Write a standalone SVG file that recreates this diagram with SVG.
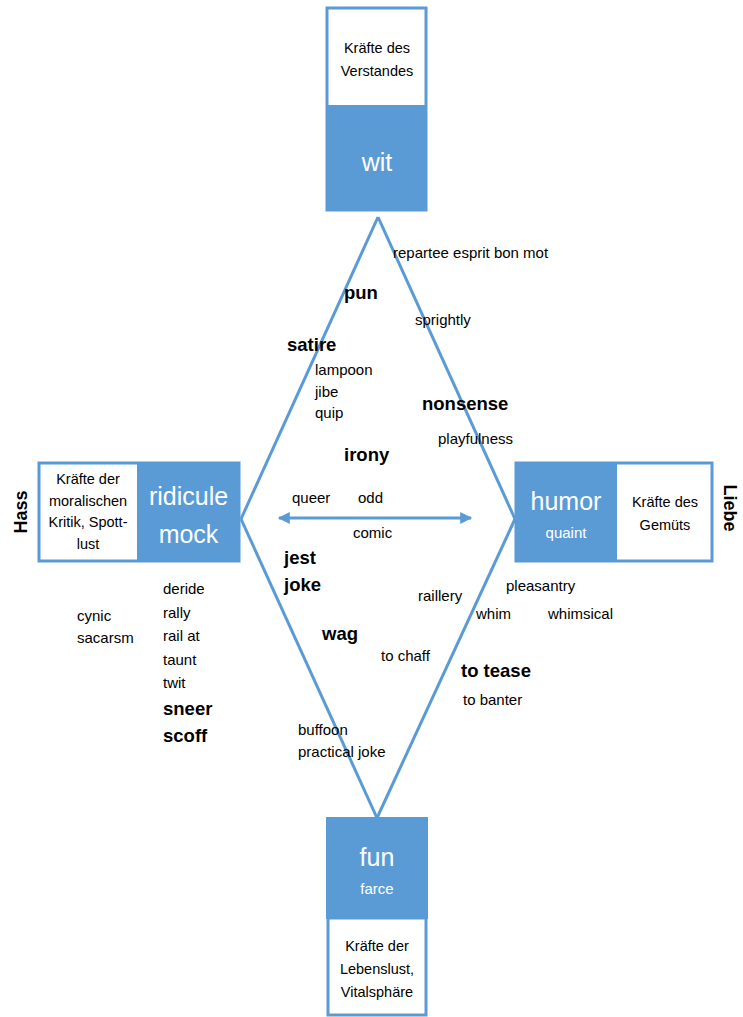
<svg xmlns="http://www.w3.org/2000/svg" width="743" height="1017" viewBox="0 0 743 1017">
<style>
  text { font-family: "Liberation Sans", Arial, sans-serif; fill: #000; }
  .w { font-size: 15px; }
  .b { font-size: 18.5px; font-weight: bold; }
  .box { font-size: 14.5px; text-anchor: middle; }
  .big { font-size: 25px; fill: #fff; text-anchor: middle; }
  .sub { font-size: 15px; fill: #fff; text-anchor: middle; }
  .side { font-size: 18px; font-weight: bold; text-anchor: middle; }
  .frame { fill: #fff; stroke: #5B9BD5; stroke-width: 3; }
  .fill { fill: #5B9BD5; }
  .edge { stroke: #5B9BD5; stroke-width: 3; fill: none; }
</style>
<defs>
  <marker id="ah" viewBox="0 0 10 10" refX="9" refY="5" markerWidth="5" markerHeight="4" orient="auto-start-reverse" markerUnits="strokeWidth">
    <path d="M0,0 L10,5 L0,10 z" fill="#5B9BD5"/>
  </marker>
</defs>
<rect width="743" height="1017" fill="#fff"/>

<g id="connectors">
  <line class="edge" x1="378" y1="217" x2="241" y2="519"/>
  <line class="edge" x1="378" y1="217" x2="515" y2="519"/>
  <line class="edge" x1="241" y1="519" x2="377" y2="818"/>
  <line class="edge" x1="515" y1="519" x2="377" y2="818"/>
  <line class="edge" x1="279" y1="518" x2="471" y2="518" stroke-width="2.5" marker-start="url(#ah)" marker-end="url(#ah)"/>
</g>

<g id="node-wit">
  <rect class="frame" x="327" y="8" width="99" height="202"/>
  <rect class="fill" x="327" y="105" width="99" height="105"/>
  <text class="box" x="377" y="53">Kräfte des</text>
  <text class="box" x="377" y="76">Verstandes</text>
  <text class="big" x="377" y="171">wit</text>
</g>

<g id="node-ridicule">
  <rect class="frame" x="39" y="463" width="200" height="98"/>
  <rect class="fill" x="137" y="463" width="102" height="98"/>
  <text class="box" x="88" y="484">Kräfte der</text>
  <text class="box" x="88" y="506">moralischen</text>
  <text class="box" x="88" y="527">Kritik, Spott-</text>
  <text class="box" x="88" y="549">lust</text>
  <text class="big" x="188.5" y="505">ridicule</text>
  <text class="big" x="188.5" y="543">mock</text>
</g>

<g id="node-humor">
  <rect class="frame" x="516" y="463" width="196" height="98"/>
  <rect class="fill" x="516" y="463" width="101" height="98"/>
  <text class="big" x="566" y="510">humor</text>
  <text class="sub" x="566" y="538">quaint</text>
  <text class="box" x="665" y="507">Kräfte des</text>
  <text class="box" x="665" y="530">Gemüts</text>
</g>

<g id="node-fun">
  <rect class="fill" x="326" y="817" width="102" height="102"/>
  <rect class="frame" x="328" y="918" width="98" height="97"/>
  <text class="big" x="377" y="866">fun</text>
  <text class="sub" x="377" y="894">farce</text>
  <text class="box" x="377" y="951">Kräfte der</text>
  <text class="box" x="377" y="974">Lebenslust,</text>
  <text class="box" x="377" y="997">Vitalsphäre</text>
</g>

<g id="side-labels">
  <text class="side" transform="translate(27,512) rotate(-90)">Hass</text>
  <text class="side" transform="translate(724,508) rotate(90)">Liebe</text>
</g>

<g id="words">
  <text class="w" x="393" y="258">repartee esprit bon mot</text>
  <text class="b" x="344" y="299">pun</text>
  <text class="w" x="415" y="325">sprightly</text>
  <text class="b" x="287" y="351">satire</text>
  <text class="w" x="315" y="375">lampoon</text>
  <text class="w" x="315" y="397">jibe</text>
  <text class="w" x="315" y="418">quip</text>
  <text class="b" x="422" y="410">nonsense</text>
  <text class="w" x="438" y="444">playfulness</text>
  <text class="b" x="344" y="461">irony</text>
  <text class="w" x="292" y="503">queer</text>
  <text class="w" x="358" y="503">odd</text>
  <text class="w" x="353" y="538">comic</text>
  <text class="b" x="284" y="564">jest</text>
  <text class="b" x="284" y="591">joke</text>
  <text class="w" x="163" y="594">deride</text>
  <text class="w" x="163" y="618">rally</text>
  <text class="w" x="163" y="641">rail at</text>
  <text class="w" x="163" y="665">taunt</text>
  <text class="w" x="163" y="688">twit</text>
  <text class="b" x="163" y="715">sneer</text>
  <text class="b" x="163" y="742">scoff</text>
  <text class="w" x="77" y="621">cynic</text>
  <text class="w" x="77" y="643">sacarsm</text>
  <text class="b" x="322" y="640">wag</text>
  <text class="w" x="418" y="601">raillery</text>
  <text class="w" x="506" y="591">pleasantry</text>
  <text class="w" x="476" y="619">whim</text>
  <text class="w" x="548" y="619">whimsical</text>
  <text class="w" x="381" y="661">to chaff</text>
  <text class="b" x="461" y="677">to tease</text>
  <text class="w" x="463" y="705">to banter</text>
  <text class="w" x="298" y="735">buffoon</text>
  <text class="w" x="298" y="757">practical joke</text>
</g>
</svg>
